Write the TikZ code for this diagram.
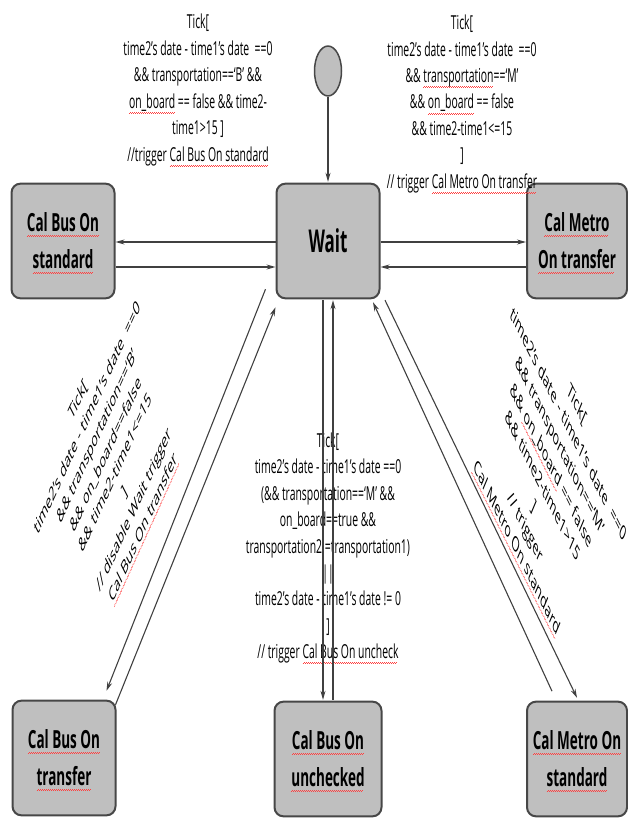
\documentclass[tikz,border=0pt]{standalone}
\usepackage{fontspec}
\setmainfont{Open Sans}
\usepackage{tikz}
\usetikzlibrary{shapes}
\usetikzlibrary{arrows.meta}
\usetikzlibrary{positioning}

\newsavebox{\sqbox}
\newcommand{\sqw}[1]{\sbox{\sqbox}{#1}\rlap{\raisebox{-2.8pt}[0pt][0pt]{\color{red!75}\hbox to \wd\sqbox{\leaders\hbox{\rule{1pt}{0.35pt}\rule[0.5pt]{1pt}{0.35pt}}\hfill}}}\usebox{\sqbox}}

\begin{document}
\begin{tikzpicture}[x=1pt,y=1pt,
  state/.style={draw=black!72, line width=2pt, fill=black!25, rounded corners=9pt,
    yscale=1.85, minimum width=103pt, minimum height=62pt, inner sep=0pt, align=center,
    font=\fontsize{13.5}{20}\selectfont\bfseries},
  start/.style={draw=black!72, line width=1.5pt, fill=black!25, circle,
    yscale=1.85, minimum size=27pt, inner sep=0pt},
  guard/.style={inner sep=0pt, align=center, font=\fontsize{10.4}{14.3}\selectfont},
  cond/.style={guard, yscale=1.85}]
\tikzset{arr/.style={draw=black!75, line width=1.1pt, -{Stealth[length=9pt,width=5pt]}}}
\useasboundingbox (0,0) rectangle (627,-818);

\node[start] (init) at (328,-71) {};
\node[state] (bstd) at (63,-241) {\sqw{Cal Bus On}\\ \sqw{standard}};
\node[state, font=\fontsize{17}{20}\selectfont\bfseries] (wait) at (328,-241) {Wait};
\node[state, minimum width=100pt] (mtr) at (577,-241) {\sqw{Cal Metro}\\ \sqw{On transfer}};
\node[state] (btr) at (64,-758) {\sqw{Cal Bus On}\\ \sqw{transfer}};
\node[state, minimum width=107pt] (bun) at (328,-759) {\sqw{Cal Bus On}\\ \sqw{unchecked}};
\node[state, minimum width=100pt] (mstd) at (577,-759) {\sqw{Cal Metro On}\\ \sqw{standard}};

\node[cond] (lbstd) at (198,-90) {Tick[\\ time2's date - time1's date\ \ ==0\\
  \&\& transportation==`B' \&\&\\ \sqw{on\_board} == false \&\& time2-\\ time1>15 ]\\
  //trigger \sqw{Cal Bus On standard}};
\node[cond] (lmtr) at (462,-104) {Tick[\\ time2's date - time1's date\ \ ==0\\
  \&\& \sqw{transportation}==`M'\\ \&\& \sqw{on\_board} == false\\ \&\& time2-time1<=15\\ ]\\
  // trigger \sqw{Cal Metro On transfer}};
\node[guard, cm={0.69,1.52,-0.65,1.28,(0,0)}] (lbtr) at (110,-463) {Tick[\\ time2's date - time1's date\ \ ==0\\
  \&\& transportation==`B'\\ \&\& on\_board==false\\ \&\& time2-time1<=15\\ ]\\
  // disable Wait trigger\\ \sqw{Cal Bus On transfer}};
\node[guard, cm={0.76,-1.52,0.60,1.43,(0,0)}] (lmstd) at (547,-475) {Tick[\\ time2's date - time1's date\ \ ==0\\
  \&\& transportation==`M'\\ \&\& \sqw{on\_board} == false\\ \&\& time2-time1>15\\ ]\\
  // trigger\\ \sqw{Cal Metro On standard}};
\node[cond] (lbun) at (328,-548) {Tick[\\ time2's date - time1's date ==0\\
  (\&\& transportation==`M' \&\&\\ on\_board==true \&\&\\
  transportation2!=transportation1)\\ ||\\ time2's date - time1's date != 0\\ ]\\
  // trigger \sqw{Cal Bus On uncheck}};

\draw[arr] (init) -- (wait);
\draw[arr] ([yshift=-1pt]wait.west) -- ([yshift=-1pt]bstd.east);
\draw[arr] ([yshift=-26pt]bstd.east) -- ([yshift=-26pt]wait.west);
\draw[arr] ([yshift=-1pt]wait.east) -- ([yshift=-1pt]mtr.west);
\draw[arr] ([yshift=-26pt]mtr.west) -- ([yshift=-26pt]wait.east);
\draw[arr] ([shift={(-10,11)}]wait.south west) -- ([shift={(-10,8)}]btr.north east);
\draw[arr] ([shift={(-1,-6)}]btr.north east) -- ([shift={(0,-7)}]wait.south west);
\draw[arr] ([xshift=-5pt]wait.south) -- ([xshift=-5pt]bun.north);
\draw[arr] ([xshift=5pt]bun.north) -- ([xshift=5pt]wait.south);
\draw[arr] ([shift={(26,8.6)}]mstd.north west) -- ([shift={(-7.5,-2)}]wait.south east);
\draw[arr] ([shift={(4.5,0)}]wait.south east) -- ([yshift=2pt]mstd.north);

\end{tikzpicture}
\end{document}
